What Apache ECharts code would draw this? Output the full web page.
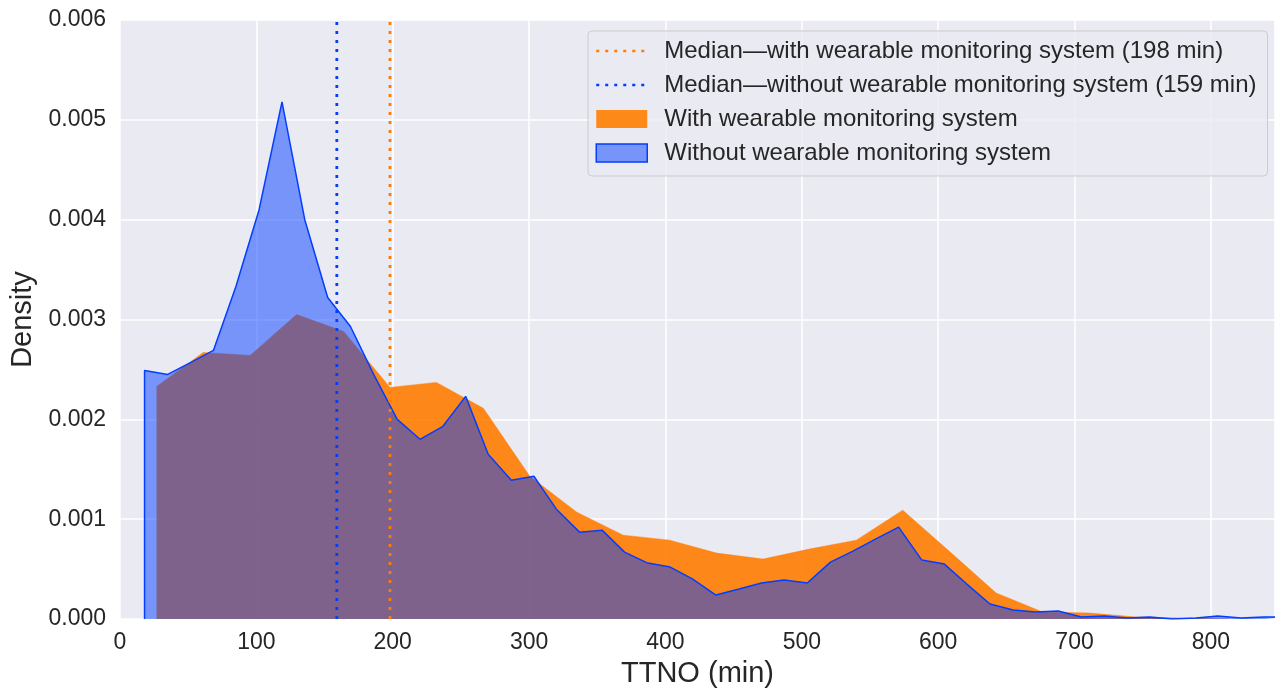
<!DOCTYPE html>
<html>
<head>
<meta charset="utf-8">
<script src="https://cdn.jsdelivr.net/npm/echarts@6/dist/echarts.min.js"></script>
<style>
  html, body { margin: 0; padding: 0; background: #fff; }
  #chart { width: 1275px; height: 693px; }
</style>
</head>
<body>
<div id="chart"></div>
<script>
// TTNO density, with wearable monitoring system (orange)
const withX = [27, 27, 61, 95.5, 129.5, 164, 198, 232, 266.5, 300.5, 335, 369, 403,
  437.5, 471.5, 505.5, 540, 574, 608, 642.5, 676.5, 711, 745, 779, 813];
const withY = [0, 0.00233, 0.00267, 0.00264, 0.00305, 0.00288, 0.00232, 0.00237, 0.00211,
  0.00143, 0.00107, 0.00084, 0.00079, 0.00066, 0.0006, 0.0007, 0.00079, 0.00109, 0.00068,
  0.00026, 0.00007, 0.00006, 0.00002, 0.00001, 0];

// without wearable monitoring system (blue)
const withoutX = [18, 18, 35, 52, 68.5, 85, 102, 118.8, 135.5, 152.3, 169, 186, 203.3,
  220, 236.8, 253.5, 270, 287, 303.5, 320, 337, 353.5, 370, 387, 403.5, 420, 437, 454,
  470.5, 487, 504, 521, 537.5, 554, 571, 588, 604.5, 621, 638, 655, 671.5, 688, 705, 722,
  738.5, 755, 772, 789, 805, 822, 839, 855];
const withoutY = [0, 0.00249, 0.00245, 0.00257, 0.00269, 0.00333, 0.0041, 0.00518, 0.0040,
  0.00322, 0.00293, 0.00245, 0.0020, 0.0018, 0.00193, 0.00223, 0.00165, 0.00139, 0.00143,
  0.0011, 0.00087, 0.00089, 0.00067, 0.00056, 0.00052, 0.0004, 0.00024, 0.0003, 0.00036,
  0.00039, 0.00036, 0.00057, 0.00068, 0.0008, 0.00092, 0.00059, 0.00055, 0.00035, 0.00015,
  0.00009, 0.00007, 0.00008, 0.00002, 0.00003, 0.00001, 0.00002, 0, 0.00001, 0.00003,
  0.00001, 0.00002, 0.00002];

const medianWith = 198;
const medianWithout = 159;

const ORANGE = "#ff7c00";
const BLUE = "#023eff";
const FONT = "Liberation Sans, Arial, sans-serif";
const TEXT = "#262626";

function pairs(xs, ys) {
  return xs.map((x, i) => [x, ys[i]]);
}

const chart = echarts.init(document.getElementById("chart"));

const option = {
  animation: false,
  textStyle: { fontFamily: FONT },
  grid: {
    left: 118,
    right: 0,
    top: 20,
    bottom: 73,
    show: true,
    backgroundColor: "#eaeaf2",
    borderWidth: 0,
  },
  legend: {
    orient: "vertical",
    left: 588,
    top: 31,
    padding: [8, 11, 11, 7],
    itemWidth: 51,
    itemHeight: 18,
    itemGap: 10,
    backgroundColor: "rgba(234,234,242,0.85)",
    borderColor: "#cccccc",
    borderWidth: 1,
    borderRadius: 4,
    textStyle: {
      fontFamily: FONT,
      fontSize: 24,
      lineHeight: 24,
      color: TEXT,
      padding: [0, 0, 0, 12],
    },
    data: [
      {
        name: "Median—with wearable monitoring system (198 min)",
        itemStyle: { color: "rgba(0,0,0,0)", borderWidth: 0 },
        lineStyle: { width: 2.5 },
      },
      {
        name: "Median—without wearable monitoring system (159 min)",
        itemStyle: { color: "rgba(0,0,0,0)", borderWidth: 0 },
        lineStyle: { width: 2.5 },
      },
      {
        name: "With wearable monitoring system",
        icon: "rect",
        itemStyle: { color: "rgb(253,138,24)", borderWidth: 0 },
      },
      {
        name: "Without wearable monitoring system",
        icon: "rect",
        itemStyle: { color: "rgba(2,62,255,0.5)", borderColor: BLUE, borderWidth: 1.5 },
      },
    ],
  },
  xAxis: {
    type: "value",
    min: 0,
    max: 847,
    interval: 100,
    name: "TTNO (min)",
    nameLocation: "middle",
    nameGap: 40,
    nameTextStyle: { fontFamily: FONT, fontSize: 29, color: TEXT },
    axisLine: { show: false },
    axisTick: { show: false },
    axisLabel: {
      fontFamily: FONT,
      fontSize: 23,
      color: TEXT,
      margin: 12,
      showMaxLabel: false,
    },
    splitLine: { show: true, lineStyle: { color: "#ffffff", width: 1.5 } },
  },
  yAxis: {
    type: "value",
    min: 0,
    max: 0.006,
    interval: 0.001,
    name: "Density",
    nameLocation: "middle",
    nameGap: 83,
    nameTextStyle: { fontFamily: FONT, fontSize: 29, color: TEXT },
    axisLine: { show: false },
    axisTick: { show: false },
    axisLabel: {
      fontFamily: FONT,
      fontSize: 23,
      color: TEXT,
      margin: 14,
      formatter: (v) => v.toFixed(3),
    },
    splitLine: { show: true, lineStyle: { color: "#ffffff", width: 1.5 } },
  },
  series: [
    {
      name: "With wearable monitoring system",
      type: "line",
      data: pairs(withX, withY),
      symbol: "none",
      lineStyle: { color: ORANGE, width: 0.5, opacity: 0.9 },
      itemStyle: { color: ORANGE },
      areaStyle: { color: ORANGE, opacity: 0.9 },
      z: 2,
    },
    {
      name: "Without wearable monitoring system",
      type: "line",
      data: pairs(withoutX, withoutY),
      symbol: "none",
      lineStyle: { color: BLUE, width: 1.5 },
      itemStyle: { color: BLUE },
      areaStyle: { color: BLUE, opacity: 0.5 },
      z: 3,
    },
    {
      name: "Median—with wearable monitoring system (198 min)",
      type: "line",
      data: [[medianWith, 0], [medianWith, 0.006]],
      symbol: "none",
      lineStyle: { color: ORANGE, width: 2.8, type: [3, 6], cap: "butt" },
      itemStyle: { color: ORANGE },
      z: 4,
    },
    {
      name: "Median—without wearable monitoring system (159 min)",
      type: "line",
      data: [[medianWithout, 0], [medianWithout, 0.006]],
      symbol: "none",
      lineStyle: { color: BLUE, width: 2.8, type: [3, 6], cap: "butt" },
      itemStyle: { color: BLUE },
      z: 4,
    },
  ],
};

chart.setOption(option);
</script>
</body>
</html>
